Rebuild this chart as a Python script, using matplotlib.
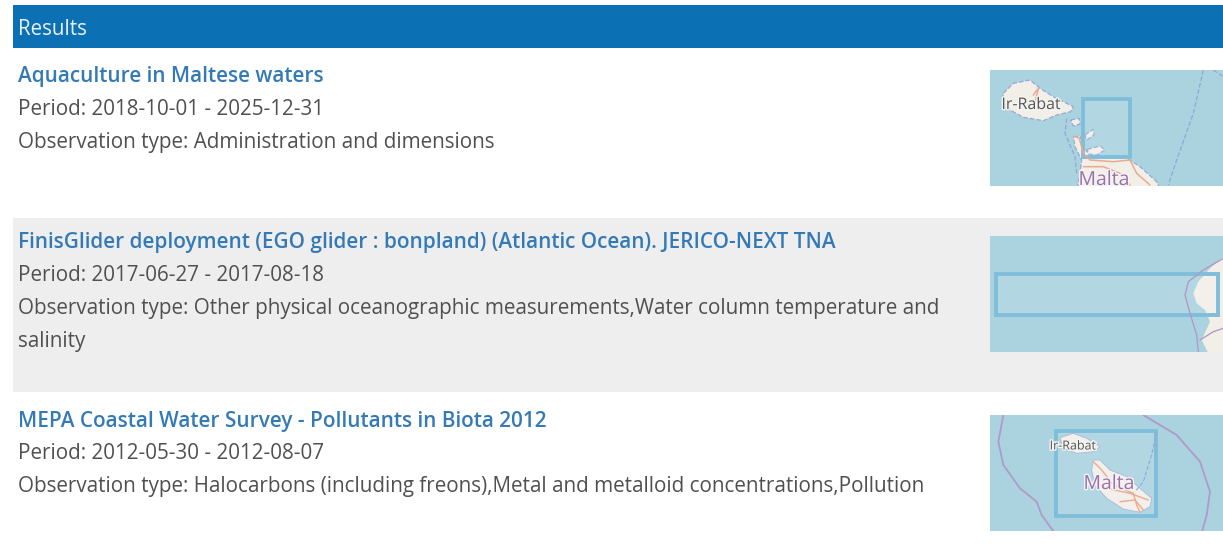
# -*- coding: utf-8 -*-
import matplotlib
matplotlib.use('Agg')
import matplotlib.pyplot as plt
import matplotlib.patheffects as pe
from matplotlib.patches import Rectangle, Polygon

plt.rcParams['font.family'] = ['Open Sans', 'DejaVu Sans']

W = 1223
H = 556

header_text = 'Results'
titles = ['Aquaculture in Maltese waters',
          'FinisGlider deployment (EGO glider : bonpland) (Atlantic Ocean). JERICO-NEXT TNA',
          'MEPA Coastal Water Survey - Pollutants in Biota 2012']
periods = ['Period: 2018-10-01 - 2025-12-31',
           'Period: 2017-06-27 - 2017-08-18',
           'Period: 2012-05-30 - 2012-08-07']
obs_types = [['Observation type: Administration and dimensions'],
             ['Observation type: Other physical oceanographic measurements,Water column temperature and',
              'salinity'],
             ['Observation type: Halocarbons (including freons),Metal and metalloid concentrations,Pollution']]

# outlines below are in 3x crop coordinates of each thumbnail
gozo = [(70, 100), (100, 70), (150, 60), (180, 85), (220, 110), (280, 140), (272, 155),
        (230, 165), (190, 182), (130, 172), (90, 150), (68, 125)]
comino = [(272, 180), (298, 175), (300, 192), (280, 198)]
malta1 = [(280, 230), (300, 230), (320, 275), (360, 290), (430, 288), (480, 320), (530, 365),
          (545, 400), (290, 400), (300, 340), (305, 300), (285, 260)]
bay1 = [(315, 225), (340, 208), (342, 225), (320, 240)]
bay2 = [(322, 268), (360, 258), (375, 270), (350, 285), (325, 282)]
roads1 = [[(282, 228), (298, 235), (310, 280), (330, 300), (400, 305), (450, 300), (470, 340), (510, 375)],
          [(310, 320), (370, 320), (420, 340), (450, 375)],
          [(160, 105), (175, 85), (165, 130)]]
border1 = [[(670, 30), (640, 160), (590, 300), (565, 375)],
           [(260, 175), (255, 220), (285, 290), (290, 340)],
           [(700, 30), (730, 50)]]

spain = [(730, 95), (690, 130), (655, 170), (640, 205), (650, 235), (675, 255), (690, 290),
         (665, 345), (685, 385), (730, 385)]
spain_line = [[(730, 100), (670, 135), (625, 170), (615, 210), (630, 265), (650, 330), (655, 380)],
              [(660, 345), (700, 320), (730, 310)]]

malta3 = [(340, 165), (360, 165), (390, 195), (440, 215), (480, 250), (515, 280), (510, 305),
          (480, 322), (430, 312), (380, 280), (345, 240), (335, 195)]
gozo3 = [(240, 98), (280, 85), (320, 100), (360, 125), (340, 140), (290, 145), (250, 130)]
roads3 = [[(340, 170), (365, 195), (400, 240), (460, 265), (470, 300), (480, 322)],
          [(380, 250), (450, 265), (505, 285)],
          [(420, 290), (465, 285), (490, 315)]]
border3 = [[(70, 30), (55, 110), (70, 180), (120, 250), (170, 290), (185, 330), (225, 385)],
           [(490, 30), (590, 90), (660, 170), (690, 260), (680, 330), (665, 385)]]
border3b = [[(530, 80), (515, 150), (490, 230), (465, 260)]]


def crop(points, x0, y0):
    return [(x0 + p[0] / 3., y0 + p[1] / 3.) for p in points]


fig = plt.figure(figsize=(W / 100., H / 100.), dpi=100)
ax = fig.add_axes([0, 0, 1, 1])
ax.set_xlim(0, W)
ax.set_ylim(H, 0)
ax.axis('off')

SEA = '#aad3df'
LAND = '#f2efe9'
ROAD = '#eba98f'
PURPLE = '#b19ac8'
BOX = '#7fbedb'
TEXT = '#505050'
LINK = '#337ab7'
HALO = [pe.withStroke(linewidth=2, foreground='#f4f4f0')]

ax.add_patch(Rectangle((13, 5), W - 13, 43, fc='#0c70b4', ec='none'))
ax.add_patch(Rectangle((13, 218), W - 13, 174, fc='#eeeeee', ec='none'))

ax.text(18, 29.4, header_text, color='#e8f1f8', fontsize=14.8, va='center')

title_y = [76.4, 242.4, 421.6]
period_y = [109.4, 275.4, 453.4]
obs_y = [142.4, 308.4, 486.4]
for i in range(3):
    ax.text(18, title_y[i], titles[i], color=LINK, fontsize=14.95, fontweight='semibold', va='center')
    ax.text(18, period_y[i], periods[i], color=TEXT, fontsize=14.85, va='center')
    for j, line in enumerate(obs_types[i]):
        ax.text(18, obs_y[i] + j * 33, line, color=TEXT, fontsize=14.85, va='center')


def add_map(map_box):
    clip = Rectangle((map_box[0], map_box[1]), map_box[2], map_box[3], transform=ax.transData)
    ax.add_patch(Rectangle((map_box[0], map_box[1]), map_box[2], map_box[3], fc=SEA, ec='none'))
    return clip


def draw_poly(pts, x0, y0, clip, color=LAND, edge='none', lw=0, ls='-'):
    p = Polygon(crop(pts, x0, y0), closed=True, fc=color, ec=edge, lw=lw, ls=ls)
    ax.add_patch(p)
    p.set_clip_path(clip)


def draw_line(pts, x0, y0, clip, color, lw=1.0, ls='-'):
    c = crop(pts, x0, y0)
    l, = ax.plot([q[0] for q in c], [q[1] for q in c], color=color, lw=lw, ls=ls, solid_capstyle='round')
    l.set_clip_path(clip)


def draw_box(box):
    ax.add_patch(Rectangle((box[0], box[1]), box[2], box[3], fc='white', alpha=0.1, ec='none'))
    ax.add_patch(Rectangle((box[0], box[1]), box[2], box[3], fc='none', ec=BOX, lw=2.8))


# first thumbnail
x0, y0 = 980, 60
clip = add_map((990, 70, 233, 116))
for pts in [gozo, comino, malta1, bay1, bay2]:
    draw_poly(pts, x0, y0, clip, edge='#98a8d4', lw=0.9, ls='--')
for pts in roads1:
    draw_line(pts, x0, y0, clip, ROAD, 1.1)
for pts in border1:
    draw_line(pts, x0, y0, clip, '#8fa8d8', 0.9, '--')
draw_box((1083, 99, 47, 58))
ax.text(1031, 105, 'Ir-Rabat', color='#555555', fontsize=11.5, ha='center', va='center', path_effects=HALO)
t = ax.text(1104, 180, 'Malta', color='#9a6fae', fontsize=14, ha='center', va='center', path_effects=HALO)
t.set_clip_path(clip)

# second thumbnail
x0, y0 = 980, 225
clip = add_map((990, 236, 233, 116))
draw_poly(spain, x0, y0, clip)
for pts in spain_line:
    draw_line(pts, x0, y0, clip, PURPLE, 1.0)
draw_box((996, 274, 222, 41))

# third thumbnail
x0, y0 = 980, 405
clip = add_map((990, 415, 233, 116))
for pts in [malta3, gozo3]:
    draw_poly(pts, x0, y0, clip, edge='#a0b0d8', lw=0.6)
for pts in roads3:
    draw_line(pts, x0, y0, clip, ROAD, 1.0)
for pts in border3:
    draw_line(pts, x0, y0, clip, PURPLE, 1.3)
for pts in border3b:
    draw_line(pts, x0, y0, clip, '#8fa8d8', 0.8, '--')
draw_box((1056, 431, 100, 85))
ax.text(1073, 446, 'Ir-Rabat', color='#555555', fontsize=9, ha='center', va='center', path_effects=HALO)
ax.text(1109, 484, 'Malta', color='#9a6fae', fontsize=14, ha='center', va='center', path_effects=HALO)

fig.savefig('out.png', dpi=100, facecolor='white')
